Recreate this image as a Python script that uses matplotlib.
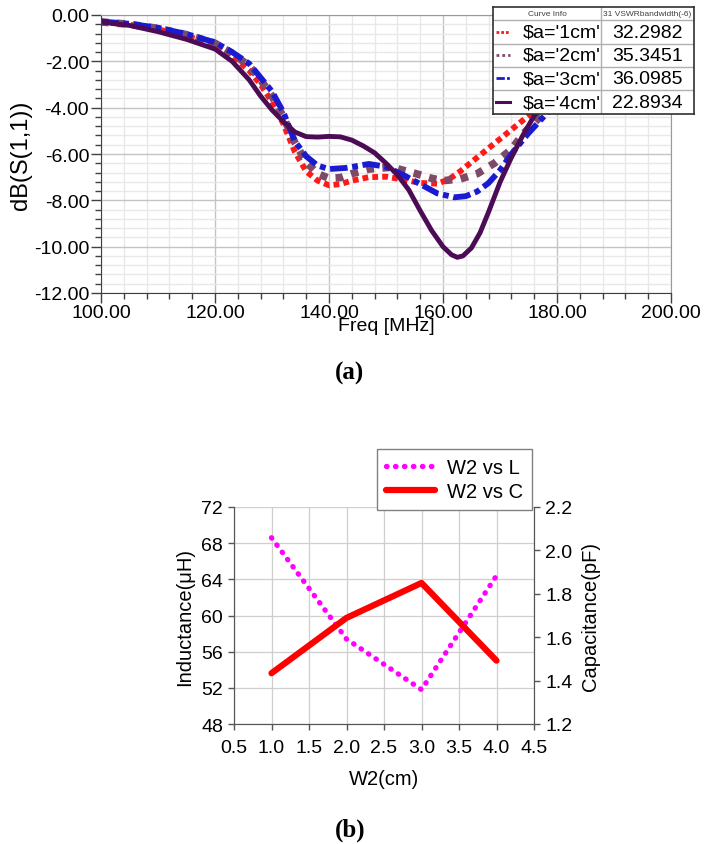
import matplotlib
matplotlib.use("Agg")
import matplotlib.pyplot as plt
from matplotlib import font_manager
from matplotlib.ticker import MultipleLocator, FormatStrFormatter

# ---- (a) return loss vs frequency, one curve per $a value ----
freq_1cm = [100, 105, 110, 115, 120, 123, 126, 128, 130, 132, 134, 136, 138, 140,
            142, 144, 147, 150, 153, 156, 159, 161, 163, 165, 167, 169, 172, 175,
            178, 182, 186, 190, 195, 200]
s11_1cm = [-0.30, -0.42, -0.62, -0.90, -1.30, -1.75, -2.40, -3.00, -3.75, -4.70,
           -5.90, -6.75, -7.15, -7.35, -7.30, -7.15, -7.00, -6.98, -7.10, -7.25,
           -7.28, -7.10, -6.75, -6.35, -5.95, -5.55, -4.95, -4.35, -3.70, -2.90,
           -2.20, -1.70, -1.20, -0.90]

freq_2cm = [100, 105, 110, 115, 120, 123, 126, 128, 130, 132, 134, 136, 138, 140,
            142, 144, 147, 151, 155, 158, 160, 163, 166, 169, 172, 174, 177, 180,
            184, 188, 192, 196, 200]
s11_2cm = [-0.30, -0.40, -0.58, -0.85, -1.22, -1.65, -2.20, -2.80, -3.50, -4.40,
           -5.50, -6.35, -6.85, -7.05, -7.02, -6.85, -6.65, -6.57, -6.83, -7.05,
           -7.15, -7.08, -6.85, -6.40, -5.80, -5.15, -4.40, -3.80, -3.00, -2.40,
           -1.90, -1.50, -1.20]

freq_3cm = [100, 105, 110, 115, 120, 123, 126, 128, 130, 132, 134, 136, 138, 140,
            143, 147, 150, 153, 156, 159, 162, 164, 166, 168, 170, 172, 175, 178,
            182, 186, 190, 195, 200]
s11_3cm = [-0.28, -0.38, -0.55, -0.82, -1.18, -1.60, -2.10, -2.70, -3.30, -4.20,
           -5.45, -6.10, -6.50, -6.65, -6.60, -6.43, -6.55, -6.90, -7.30, -7.70,
           -7.87, -7.82, -7.62, -7.25, -6.70, -6.00, -5.10, -4.30, -3.40, -2.60,
           -2.00, -1.40, -1.00]

freq_4cm = [100, 105, 110, 115, 120, 123, 126, 128, 130, 132, 134, 136, 138, 140,
            142, 144, 146, 148, 150, 152, 154, 156, 158, 160, 161.5, 162.5, 163.5,
            165, 166.5, 168, 170, 172, 174, 176, 178, 181, 185, 190, 195, 200]
s11_4cm = [-0.30, -0.45, -0.72, -1.05, -1.47, -2.00, -2.80, -3.50, -4.10, -4.60,
           -5.05, -5.25, -5.27, -5.24, -5.26, -5.40, -5.65, -5.95, -6.40, -6.90,
           -7.55, -8.45, -9.30, -10.00, -10.35, -10.46, -10.40, -10.05, -9.40,
           -8.50, -7.22, -6.15, -5.20, -4.35, -3.70, -2.90, -2.10, -1.50, -1.10,
           -0.85]

curve_names = ["$a='1cm'", "$a='2cm'", "$a='3cm'", "$a='4cm'"]
bandwidth = ["32.2982", "35.3451", "36.0985", "22.8934"]

# ---- (b) inductance / capacitance vs W2 ----
w2 = [1.0, 2.0, 3.0, 4.0]
inductance = [68.6, 57.4, 51.8, 64.4]
capacitance = [1.434, 1.689, 1.850, 1.492]

names = {f.name for f in font_manager.fontManager.ttflist}
sans = "Liberation Sans" if "Liberation Sans" in names else "DejaVu Sans"
has_narrow = "Liberation Sans Narrow" in names
narrow = "Liberation Sans Narrow" if has_narrow else sans
narrow_size = 15.5 if has_narrow else 14
serif = "Liberation Serif" if "Liberation Serif" in names else "DejaVu Serif"
plt.rcParams["font.family"] = [sans, "DejaVu Sans"]

W, H = 713, 845


def px_rect(x0, y0, x1, y1):
    return [x0 / W, 1 - y1 / H, (x1 - x0) / W, (y1 - y0) / H]


fig = plt.figure(figsize=(W / 100, H / 100), dpi=100)

# ================= (a) =================
ax = fig.add_axes(px_rect(101, 16, 671, 294))
styles = [
    dict(color="#ff1a1a", lw=4.2, linestyle=(0, (1, 0.7))),
    dict(color="#7d4a68", lw=5.5, linestyle=(0, (1, 1.1))),
    dict(color="#1a1ad0", lw=4.2, linestyle=(0, (3, 0.8, 1, 0.8))),
    dict(color="#4b0b55", lw=3.5, linestyle="-"),
]
series = [(freq_1cm, s11_1cm), (freq_2cm, s11_2cm),
          (freq_3cm, s11_3cm), (freq_4cm, s11_4cm)]
for (f, s), st in zip(series, styles):
    ax.plot(f, s, solid_capstyle="round", **st)

ax.set_xlim(100, 200)
ax.set_ylim(-12, 0)
ax.xaxis.set_major_locator(MultipleLocator(20))
ax.xaxis.set_minor_locator(MultipleLocator(4))
ax.yaxis.set_major_locator(MultipleLocator(2))
ax.yaxis.set_minor_locator(MultipleLocator(0.4))
ax.xaxis.set_major_formatter(FormatStrFormatter("%.2f"))
ax.yaxis.set_major_formatter(FormatStrFormatter("%.2f"))
ax.grid(True, which="major", color="#c4c4c4", lw=1.0)
ax.grid(True, which="minor", color="#e8e8e8", lw=1.0)
ax.set_axisbelow(True)
ax.tick_params(which="major", direction="out", length=7, width=1, color="#404040")
ax.tick_params(which="minor", direction="out", length=4.5, width=1, color="#404040")
ax.tick_params(axis="y", labelsize=14, pad=1.5)
ax.tick_params(axis="x", pad=1)
for lab in ax.get_xticklabels():
    lab.set_fontfamily(narrow)
    lab.set_fontsize(narrow_size)
for side in ["left", "bottom"]:
    ax.spines[side].set_color("#404040")
for side in ["top", "right"]:
    ax.spines[side].set_color("#9a9a9a")
ax.set_ylabel("dB(S(1,1))", fontsize=17, labelpad=1)
ax.set_xlabel("Freq [MHz]", fontsize=narrow_size, fontfamily=narrow, labelpad=-3)

# curve info table drawn on top of the plot
tab = fig.add_axes(px_rect(493, 8, 694, 115))
tab.set_xlim(0, 201)
tab.set_ylim(107, 0)
tab.set_xticks([])
tab.set_yticks([])
for sp in tab.spines.values():
    sp.set_color("#303030")
    sp.set_linewidth(1.2)
row_edges = [0, 13, 36.5, 59.5, 83, 107]
for y in row_edges[1:-1]:
    tab.axhline(y, color="#b0b0b0", lw=1)
tab.axvline(108, color="#b0b0b0", lw=1)
tab.text(54, 6.5, "Curve Info", fontsize=6, ha="center", va="center", color="#404040")
tab.text(154.5, 6.5, "31 VSWRbandwidth(-6)", fontsize=6, ha="center", va="center",
         color="#404040")
for i, (name, bw, st) in enumerate(zip(curve_names, bandwidth, styles)):
    yc = (row_edges[i + 1] + row_edges[i + 2]) / 2
    lw = 2.0 if i < 3 else 2.2
    tab.plot([3, 17], [yc, yc], color=st["color"], lw=lw,
             linestyle=st["linestyle"] if i < 3 else "-")
    tab.text(30, yc + 0.5, name, fontsize=14, ha="left", va="center")
    tab.text(154.5, yc + 0.5, bw, fontsize=14, ha="center", va="center")

fig.text(349 / W, 1 - 373 / H, "(a)", fontsize=18, fontweight="bold",
         fontfamily=serif, ha="center", va="center")

# ================= (b) =================
bx = fig.add_axes(px_rect(234, 508, 534, 725))
bx2 = bx.twinx()
l1, = bx.plot(w2, inductance, color="#ff00ff", lw=3.8,
              linestyle=(0, (0.1, 1.6)), dash_capstyle="round", label="W2 vs L")
l2, = bx2.plot(w2, capacitance, color="#ff0000", lw=4.5,
               solid_capstyle="round", label="W2 vs C")

bx.set_xlim(0.5, 4.5)
bx.set_ylim(48, 72)
bx2.set_ylim(1.2, 2.2)
bx.xaxis.set_major_locator(MultipleLocator(0.5))
bx.yaxis.set_major_locator(MultipleLocator(4))
bx2.yaxis.set_major_locator(MultipleLocator(0.2))
bx.xaxis.set_major_formatter(FormatStrFormatter("%.1f"))
bx2.yaxis.set_major_formatter(FormatStrFormatter("%.1f"))
bx.grid(True, color="#cfcfcf", lw=0.9)
bx.set_axisbelow(True)
for a in (bx, bx2):
    a.tick_params(direction="out", length=4, width=1, color="#555555",
                  labelsize=14, pad=4)
    for side in ["left", "right", "bottom"]:
        a.spines[side].set_color("#555555")
    a.spines["top"].set_visible(False)
bx.tick_params(axis="x", pad=7)
bx.set_ylabel("Inductance(μH)", fontsize=14.5, labelpad=5)
bx2.set_ylabel("Capacitance(pF)", fontsize=14.5, labelpad=6)
bx.set_xlabel("W2(cm)", fontsize=14.5, labelpad=9)

leg = bx2.legend([l1, l2], ["W2 vs L", "W2 vs C"], loc="upper right",
                 bbox_to_anchor=(532 / W, 1 - 450 / H), bbox_transform=fig.transFigure,
                 fancybox=False, edgecolor="#808080", fontsize=14.5, framealpha=1,
                 handlelength=2.4, borderaxespad=0, borderpad=0.45,
                 labelspacing=0.25, handletextpad=0.6)
leg.get_frame().set_linewidth(1.0)

fig.text(350 / W, 1 - 830 / H, "(b)", fontsize=18, fontweight="bold",
         fontfamily=serif, ha="center", va="center")

fig.savefig("out.png", dpi=100)
